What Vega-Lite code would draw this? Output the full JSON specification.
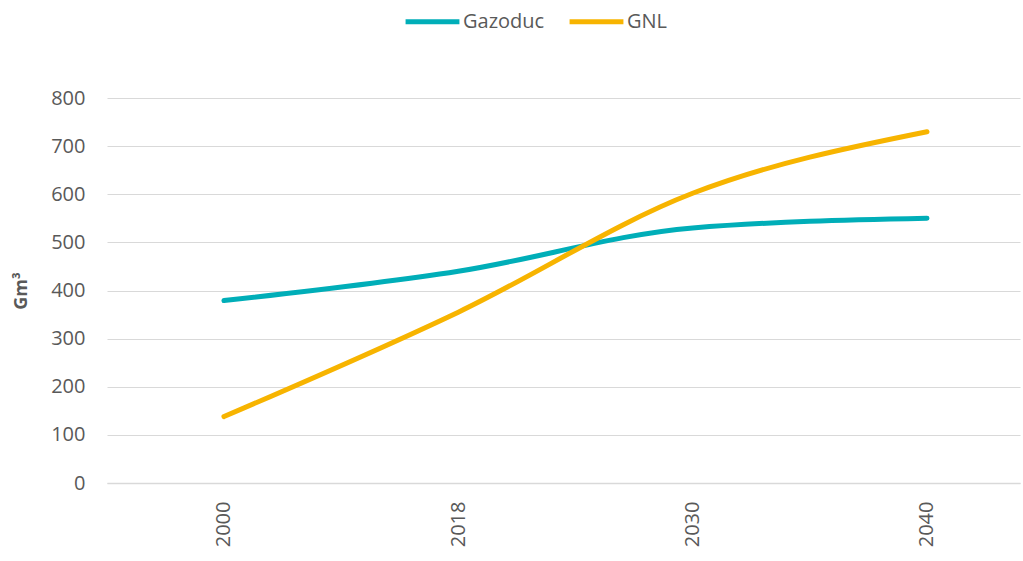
{
  "$schema": "https://vega.github.io/schema/vega-lite/v6.json",
  "width": 913,
  "height": 385,
  "autosize": {"type": "none"},
  "padding": {"left": 107, "top": 98, "right": 3, "bottom": 78},
  "background": "white",
  "config": {
    "view": {"stroke": null},
    "font": "Open Sans"
  },
  "data": {
    "values": [
      {"year": "2000", "serie": "Gazoduc", "value": 379},
      {"year": "2018", "serie": "Gazoduc", "value": 440},
      {"year": "2030", "serie": "Gazoduc", "value": 530},
      {"year": "2040", "serie": "Gazoduc", "value": 550},
      {"year": "2000", "serie": "GNL", "value": 138},
      {"year": "2018", "serie": "GNL", "value": 355},
      {"year": "2030", "serie": "GNL", "value": 602},
      {"year": "2040", "serie": "GNL", "value": 730}
    ]
  },
  "mark": {"type": "line", "strokeWidth": 5, "strokeCap": "round", "interpolate": "monotone"},
  "encoding": {
    "x": {
      "field": "year",
      "type": "ordinal",
      "scale": {"type": "point", "padding": 0.448, "align": 0.557},
      "axis": {
        "title": null,
        "labelAngle": -90,
        "labelAlign": "right",
        "labelBaseline": "middle",
        "labelFontSize": 20,
        "labelColor": "#595959",
        "labelPadding": 18,
        "ticks": false,
        "domain": true,
        "domainColor": "#d9d9d9",
        "domainWidth": 1.5,
        "grid": false
      }
    },
    "y": {
      "field": "value",
      "type": "quantitative",
      "scale": {"domain": [0, 800]},
      "axis": {
        "title": "Gm³",
        "titleFontSize": 18,
        "titleFontWeight": "bold",
        "titleColor": "#595959",
        "titlePadding": 20,
        "values": [0, 100, 200, 300, 400, 500, 600, 700, 800],
        "labelFontSize": 20,
        "labelColor": "#595959",
        "labelPadding": 22,
        "ticks": false,
        "domain": false,
        "grid": true,
        "gridColor": "#d9d9d9",
        "gridWidth": 1.2
      }
    },
    "color": {
      "field": "serie",
      "type": "nominal",
      "scale": {"domain": ["Gazoduc", "GNL"], "range": ["#00AEB8", "#F7B400"]},
      "legend": {
        "title": null,
        "orient": "none",
        "direction": "horizontal",
        "legendX": 296,
        "legendY": -106,
        "symbolType": "stroke",
        "symbolStrokeWidth": 5,
        "symbolSize": 2900,
        "labelFontSize": 20,
        "labelColor": "#595959",
        "columnPadding": 14,
        "labelOffset": 1
      }
    }
  }
}
